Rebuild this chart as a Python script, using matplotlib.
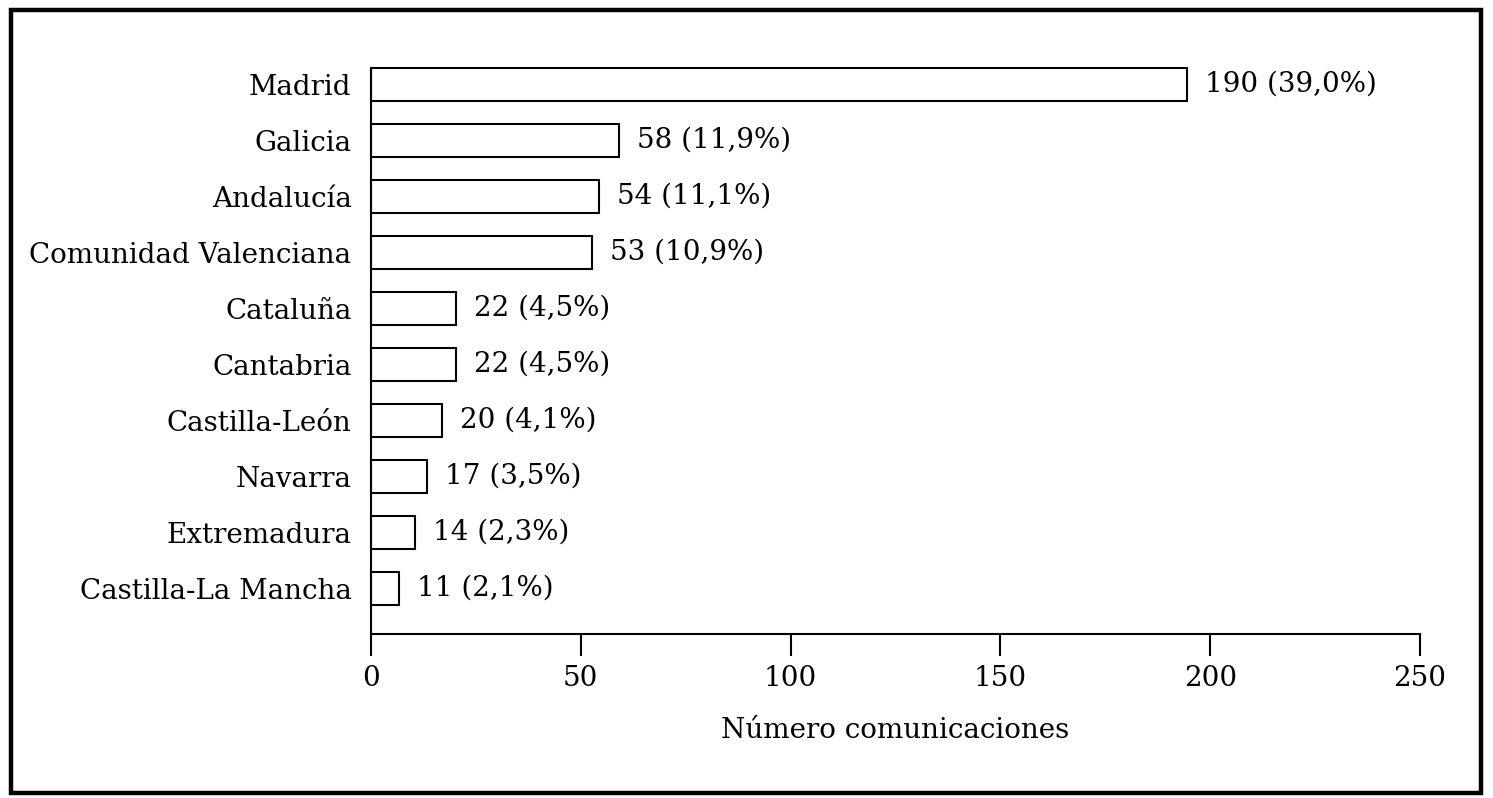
import matplotlib
matplotlib.use("Agg")
import matplotlib.pyplot as plt
from matplotlib.patches import Rectangle

categories = ["Madrid", "Galicia", "Andalucía", "Comunidad Valenciana", "Cataluña",
              "Cantabria", "Castilla-León", "Navarra", "Extremadura", "Castilla-La Mancha"]
bar_lengths = [194.5, 59.2, 54.4, 52.6, 20.2, 20.2, 17.0, 13.4, 10.5, 6.7]
value_labels = ["190 (39,0%)", "58 (11,9%)", "54 (11,1%)", "53 (10,9%)", "22 (4,5%)",
                "22 (4,5%)", "20 (4,1%)", "17 (3,5%)", "14 (2,3%)", "11 (2,1%)"]
xticks = [0, 50, 100, 150, 200, 250]
xlabel = "Número comunicaciones"

plt.rcParams['font.family'] = ['DejaVu Serif']

W, H = 1493, 798
fig = plt.figure(figsize=(W / 100, H / 100), dpi=100)

# outer frame
fig.patches.append(Rectangle((10.5 / W, 1 - 793 / H), (1481 - 10.5) / W, (793 - 10) / H,
                             transform=fig.transFigure, fill=False, lw=3.2, ec='black'))

ax = fig.add_axes([371 / W, 1 - 634 / H, (1420 - 371) / W, (634 - 68) / H])
bh = 0.59
y = list(range(len(categories)))
bars = ax.barh(y, bar_lengths, height=bh, color='white', edgecolor='black', linewidth=1.5)
for b in bars:
    b.set_clip_on(False)
ax.set_xlim(0, 250)
ax.set_ylim(9 + 45.5 / 56, -bh / 2)

for yi, v, lab in zip(y, bar_lengths, value_labels):
    ax.annotate(lab, (v, yi), xytext=(13, 0), textcoords='offset points',
                va='center', ha='left', fontsize=20)

ax.set_yticks(y)
ax.set_yticklabels(categories, fontsize=20)
ax.tick_params(axis='y', length=0, pad=14)
ax.set_xticks(xticks)
ax.set_xticklabels([str(t) for t in xticks], fontsize=20)
ax.tick_params(axis='x', direction='out', length=16, width=1.5, pad=6)
for s in ['top', 'right']:
    ax.spines[s].set_visible(False)
for s in ['left', 'bottom']:
    ax.spines[s].set_linewidth(1.5)
ax.set_xlabel(xlabel, fontsize=20, labelpad=18)

fig.savefig("out.png", dpi=100)
